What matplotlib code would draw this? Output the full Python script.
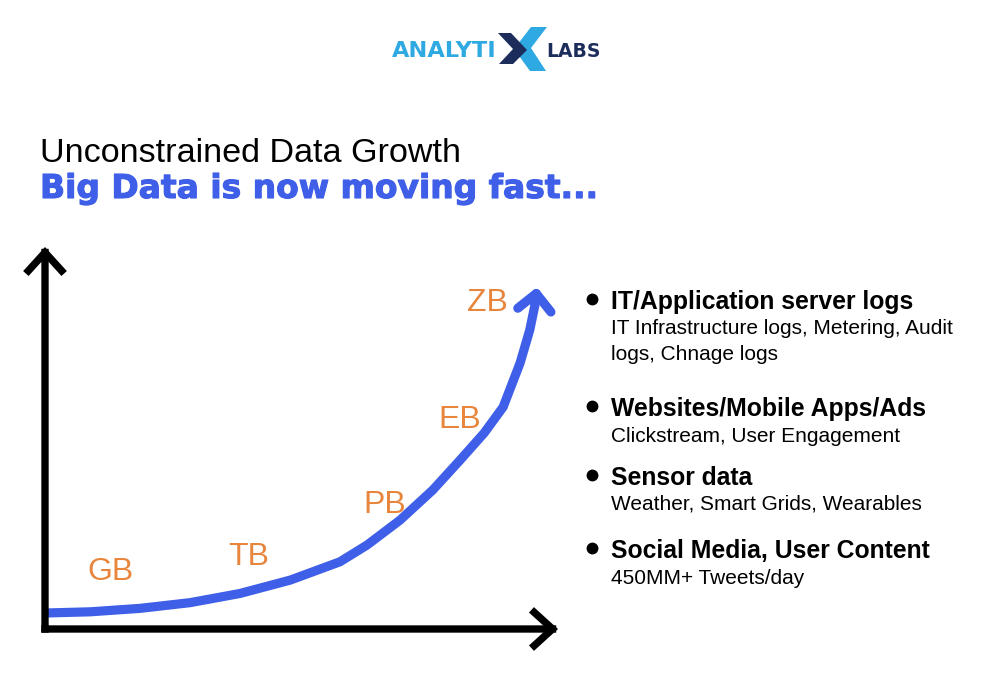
import matplotlib
matplotlib.use("Agg")
import matplotlib.pyplot as plt
from matplotlib.patches import Polygon
import matplotlib.patheffects as pe

# ---------------- data ----------------
growth_x = [0.4, 8.8, 18.5, 28.3, 38.0, 47.8, 57.5, 62.8, 69.2, 75.6, 80.9, 85.6,
            89.3, 92.6, 94.5, 95.5, 95.9]
growth_y = [4.2, 4.5, 5.4, 6.9, 9.3, 12.8, 17.6, 22.0, 28.5, 36.4, 44.2, 51.3,
            58.1, 69.6, 78.3, 84.8, 89.5]

unit_labels = ["GB", "TB", "PB", "EB", "ZB"]
unit_x = [12.7, 39.8, 66.3, 80.9, 86.2]
unit_y = [12.8, 16.8, 30.4, 52.6, 83.2]

title = "Unconstrained Data Growth"
subtitle = "Big Data is now moving fast..."

bullet_heads = ["IT/Application server logs", "Websites/Mobile Apps/Ads",
                "Sensor data", "Social Media, User Content"]
bullet_subs = [["IT Infrastructure logs, Metering, Audit", "logs, Chnage logs"],
               ["Clickstream, User Engagement"],
               ["Weather, Smart Grids, Wearables"],
               ["450MM+ Tweets/day"]]

# ---------------- style ----------------
BLUE = "#3F5FE8"
ORANGE = "#E8863E"
LIGHTBLUE = "#2EA9E1"
NAVY = "#1C2D5C"
FONT = "Liberation Sans"

W, H = 986, 687
fig = plt.figure(figsize=(W / 100, H / 100), dpi=100)
fig.patch.set_facecolor("white")

# decoration layer in pixel coordinates
deco = fig.add_axes([0, 0, 1, 1])
deco.set_xlim(0, W)
deco.set_ylim(H, 0)
deco.axis("off")

# logo
deco.text(392, 57, "ANALYTI", color=LIGHTBLUE, fontsize=16.2, fontweight="bold",
          family="DejaVu Sans", va="baseline", ha="left")
deco.add_patch(Polygon([(531, 27), (547, 27), (531, 48), (546, 71), (530, 71), (514, 49)],
                       closed=True, color=LIGHTBLUE, lw=0))
deco.add_patch(Polygon([(498, 33), (511, 33), (527, 50), (513, 64), (499, 64), (513, 49)],
                       closed=True, color=NAVY, lw=0))
deco.text(546, 57, "LABS", color=NAVY, fontsize=13.5, fontweight="bold",
          family="DejaVu Sans", va="baseline", ha="left")

# titles
deco.text(40, 162, title, fontsize=24.6, family=FONT, color="black", va="baseline", ha="left")
deco.text(40, 198, subtitle, fontsize=23.7, family="DejaVu Sans", fontweight="bold", color=BLUE,
          va="baseline", ha="left",
          path_effects=[pe.withStroke(linewidth=0.8, foreground=BLUE)])

# bullets
head_base = [309, 416, 485, 558]
sub_base = [[334.5, 360.5], [441.5], [509.5], [583.5]]
for head, subs, yb, sbs in zip(bullet_heads, bullet_subs, head_base, sub_base):
    deco.plot([592], [yb - 10], marker="o", color="black", markersize=7.5)
    deco.text(611, yb, head, fontsize=17.8, fontweight="bold", family=FONT, color="black",
              va="baseline", ha="left")
    for s, sb in zip(subs, sbs):
        deco.text(611, sb, s, fontsize=15, family=FONT, color="black",
                  va="baseline", ha="left")

# chart axes: origin at pixel (45, 629), extent to (558, 247)
left, bottom = 45 / W, (H - 629) / H
ax = fig.add_axes([left, bottom, 513 / W, 382 / H])
ax.set_xlim(0, 100)
ax.set_ylim(0, 100)
ax.axis("off")

# axes arrows
arrow_kw = dict(arrowstyle="->,head_length=1.1,head_width=1.0", color="black", lw=5.3,
                mutation_scale=12, shrinkA=0, shrinkB=0, capstyle="projecting",
                joinstyle="miter")
ax.annotate("", xy=(100, 0), xytext=(0, 0), arrowprops=arrow_kw, annotation_clip=False)
ax.annotate("", xy=(0, 100), xytext=(0, 0), arrowprops=arrow_kw, annotation_clip=False)

# growth curve
ax.plot(growth_x[:-1], growth_y[:-1], color=BLUE, lw=6.6, solid_capstyle="butt",
        solid_joinstyle="round", clip_on=False)
ax.annotate("", xy=(growth_x[-1], growth_y[-1]), xytext=(growth_x[-2], growth_y[-2]),
            arrowprops=dict(arrowstyle="->,head_length=1.0,head_width=1.0", color=BLUE,
                            lw=6.6, mutation_scale=12, shrinkA=0, shrinkB=0),
            annotation_clip=False)

for lab, x, y in zip(unit_labels, unit_x, unit_y):
    ax.text(x, y, lab, fontsize=23, family=FONT, color=ORANGE, ha="center", va="baseline")

fig.savefig("out.png", dpi=100, facecolor="white")
